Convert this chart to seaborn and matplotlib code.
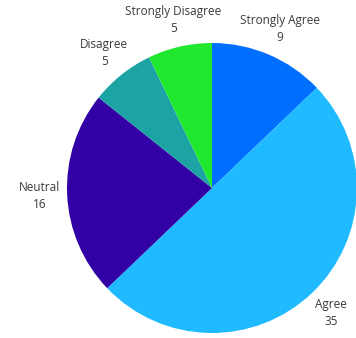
import matplotlib
matplotlib.use("Agg")
import matplotlib.pyplot as plt
import seaborn as sns

categories = ["Strongly Agree", "Agree", "Neutral", "Disagree", "Strongly Disagree"]
values = [9, 35, 16, 5, 5]
colors = ["#006eff", "#1fbaff", "#3300a6", "#1ca3a3", "#1fe82f"]

sns.set_theme(style="white")
plt.rcParams['font.family'] = ['Open Sans', 'DejaVu Sans']
palette = sns.color_palette(colors)

W, H = 356, 338
fig = plt.figure(figsize=(W / 100, H / 100), dpi=100)
cx, cy, r = 212, 188, 145
ax = fig.add_axes([(cx - r) / W, (H - cy - r) / H, 2 * r / W, 2 * r / H])

labels = [f"{c}\n{v}" for c, v in zip(categories, values)]
wedges, texts = ax.pie(values, labels=labels, colors=palette, startangle=90,
                       counterclock=False, labeldistance=1.19, radius=1,
                       wedgeprops=dict(linewidth=0),
                       textprops=dict(fontsize=8.5, color="#3a3a3a", linespacing=1.4))
for t in texts:
    t.set_ha("center")
    t.set_va("center")
ax.set_xlim(-1, 1)
ax.set_ylim(-1, 1)
ax.set_aspect("equal")
ax.axis("off")
fig.savefig("out.png", dpi=100)
